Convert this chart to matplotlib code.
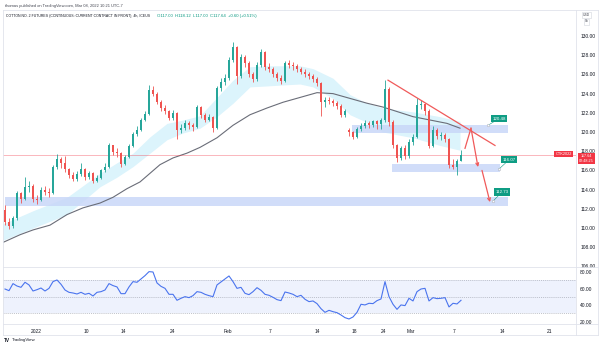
import matplotlib.pyplot as plt
from matplotlib.lines import Line2D
import numpy as np

plt.rcParams['font.family'] = ['Liberation Sans', 'DejaVu Sans']

W, H = 602, 346

# cotton 4h candles (each bar here ~ two bars of the screenshot)
opens = [111.9, 110.6, 110.2, 111.0, 113.6, 113.0, 114.3, 114.4, 113.0, 112.9,
         114.0, 113.8, 113.6, 116.4, 117.2, 116.8, 116.2, 115.5, 115.1, 115.6,
         116.2, 115.3, 115.7, 114.9, 115.2, 116.0, 116.4, 118.6, 117.9, 117.8,
         116.7, 117.4, 118.5, 119.8, 120.2, 121.3, 121.9, 124.4, 124.0, 123.1,
         122.5, 122.2, 121.5, 122.0, 120.2, 120.4, 120.9, 120.7, 120.5, 122.6,
         121.8, 121.3, 121.6, 120.4, 124.6, 125.2, 125.6, 127.5, 128.9, 125.8,
         127.8, 127.2, 126.0, 125.5, 127.0, 128.3, 126.8, 126.6, 126.0, 125.6,
         125.3, 127.2, 127.0, 126.9, 126.6, 126.3, 126.0, 125.8, 125.5, 125.1,
         123.1, 123.3, 123.2, 123.0, 122.7, 121.8, 120.2, 120.0, 119.5, 120.3,
         120.6, 120.9, 120.7, 121.1, 120.8, 121.2, 124.5, 121.0, 118.6, 117.3,
         118.3, 117.5, 119.0, 119.5, 122.8, 122.9, 122.2, 118.5, 120.2, 119.6,
         119.7, 119.3, 116.6, 116.4, 117.0]
highs = [112.4, 111.0, 111.3, 113.9, 113.8, 115.3, 114.9, 114.6, 113.4, 114.3,
         114.4, 114.2, 116.6, 117.7, 117.4, 117.5, 116.3, 115.8, 115.9, 116.8,
         116.3, 115.9, 115.8, 115.5, 116.2, 116.8, 118.9, 118.7, 118.3, 117.9,
         117.6, 118.8, 120.0, 120.6, 121.5, 122.2, 124.9, 124.8, 124.2, 123.3,
         122.8, 122.3, 122.3, 122.1, 120.8, 121.2, 121.1, 120.9, 122.8, 122.7,
         122.0, 121.9, 121.7, 124.8, 125.6, 126.0, 127.8, 129.4, 129.0, 128.1,
         128.0, 127.4, 126.2, 127.3, 128.6, 128.4, 127.2, 126.8, 126.2, 125.9,
         127.4, 127.5, 127.3, 127.1, 126.8, 126.6, 126.3, 126.0, 125.7, 125.2,
         123.6, 123.6, 123.4, 123.2, 122.9, 122.4, 120.4, 120.1, 120.5, 120.9,
         121.2, 121.1, 121.3, 121.3, 121.5, 125.4, 124.7, 121.2, 118.8, 118.5,
         118.6, 119.3, 119.8, 123.5, 123.3, 123.0, 122.4, 120.6, 120.4, 120.0,
         119.9, 119.4, 117.2, 117.2, 118.12]
lows = [110.3, 109.9, 110.0, 110.8, 112.6, 112.9, 113.8, 112.7, 112.5, 112.8,
        113.4, 113.2, 113.5, 116.2, 116.3, 115.8, 115.2, 114.9, 114.9, 115.4,
        115.0, 115.1, 114.7, 114.8, 115.1, 115.8, 116.3, 117.6, 117.4, 116.4,
        116.6, 117.3, 118.4, 119.6, 120.1, 121.1, 121.8, 123.7, 122.9, 122.2,
        121.9, 121.2, 121.3, 119.3, 119.9, 120.2, 120.3, 120.1, 120.4, 121.5,
        121.0, 121.1, 120.0, 120.3, 124.3, 124.9, 125.4, 127.3, 125.0, 125.6,
        126.8, 125.7, 125.2, 125.3, 126.8, 126.5, 126.3, 125.7, 125.3, 125.0,
        125.2, 126.7, 126.5, 126.3, 126.0, 125.7, 125.5, 125.2, 124.8, 121.7,
        122.6, 122.9, 122.7, 122.4, 121.6, 121.6, 119.6, 119.3, 119.4, 120.1,
        120.4, 120.4, 120.5, 120.3, 120.3, 121.0, 120.6, 118.3, 116.9, 117.1,
        117.2, 117.3, 118.7, 119.4, 122.4, 121.8, 118.3, 118.4, 119.3, 119.2,
        119.0, 116.3, 116.2, 115.5, 117.0]
closes = [110.6, 110.2, 111.0, 113.6, 113.0, 114.3, 114.4, 113.0, 112.9, 114.0,
          113.8, 113.6, 116.4, 117.2, 116.8, 116.2, 115.5, 115.1, 115.6, 116.2,
          115.3, 115.7, 114.9, 115.2, 116.0, 116.4, 118.6, 117.9, 117.8, 116.7,
          117.4, 118.5, 119.8, 120.2, 121.3, 121.9, 124.4, 124.0, 123.1, 122.5,
          122.2, 121.5, 122.0, 120.2, 120.4, 120.9, 120.7, 120.5, 122.6, 121.8,
          121.3, 121.6, 120.4, 124.6, 125.2, 125.6, 127.5, 128.9, 125.8, 127.8,
          127.2, 126.0, 125.5, 127.0, 128.3, 126.8, 126.6, 126.0, 125.6, 125.3,
          127.2, 127.0, 126.9, 126.6, 126.3, 126.0, 125.8, 125.5, 125.1, 123.1,
          123.3, 123.2, 123.0, 122.7, 121.8, 122.2, 120.0, 119.5, 120.3, 120.6,
          120.9, 120.7, 121.1, 120.8, 121.2, 124.5, 121.0, 118.6, 117.3, 118.3,
          117.5, 119.0, 119.5, 122.8, 122.9, 122.2, 118.5, 120.2, 119.6, 119.7,
          119.3, 116.6, 116.4, 117.0, 117.64]

rsi = [59.5, 57.5, 66.0, 63.1, 61.5, 67.6, 64.4, 57.1, 58.7, 60.7,
       57.1, 60.3, 68.4, 70.4, 65.2, 58.3, 55.5, 54.7, 53.5, 55.5,
       53.1, 54.3, 51.1, 55.5, 56.3, 58.3, 66.0, 63.6, 62.0, 53.9,
       53.9, 62.0, 68.4, 67.6, 71.6, 75.6, 80.4, 80.0, 66.8, 62.7,
       60.3, 53.1, 53.1, 45.9, 48.3, 50.3, 49.1, 51.5, 56.3, 55.5,
       53.1, 51.5, 50.3, 64.4, 68.0, 71.6, 75.2, 68.4, 60.3, 61.5,
       54.3, 52.7, 56.3, 61.1, 57.9, 53.1, 51.9, 49.5, 46.7, 45.5,
       55.9, 54.7, 53.1, 50.3, 51.9, 47.1, 44.3, 45.1, 41.9, 35.8,
       31.4, 33.8, 32.2, 31.0, 28.2, 25.0, 23.4, 25.8, 31.4, 41.1,
       40.3, 42.3, 41.9, 45.5, 47.5, 68.4, 50.3, 41.1, 35.0, 40.3,
       39.5, 48.3, 45.1, 56.3, 59.5, 60.3, 45.1, 49.1, 47.9, 48.3,
       49.1, 37.9, 42.3, 41.5, 45.9]

# slow moving average (grey line), read at a few points
ma_idx = [-0.5, 3.75, 7, 11.25, 15.5, 19.5, 23.75, 27, 30.5, 33.75, 36.25, 38.75,
          42, 45.5, 48.75, 53, 57, 61.25, 65.5, 69.5, 73.75, 78, 82, 86.25, 90.5,
          94.5, 102, 106.25, 110.5, 113.75]
ma_val = [108.5, 109.3, 109.8, 110.3, 111.4, 112.1, 112.6, 113.2, 114.1, 114.8,
          115.7, 116.6, 117.3, 117.8, 118.4, 119.4, 120.7, 121.8, 122.5, 123.1,
          123.6, 124.1, 124.0, 123.5, 123.0, 122.6, 121.6, 121.25, 120.9, 120.4]

# light blue ribbon
band_idx = [-1.25, 7, 15.5, 23.75, 28, 32, 36.25, 40.5, 44.5, 48.75, 53, 57, 61.25,
            65.5, 69.5, 73.75, 77, 82, 86.25, 90.5, 94.5, 102, 108.75, 113.75]
band_hi = [110.3, 111.8, 113.2, 115.7, 116.8, 117.8, 119.5, 120.9, 121.25, 121.7,
           123.6, 125.4, 126.8, 126.9, 126.9, 126.9, 126.6, 125.6, 123.9, 123.0,
           122.5, 122.1, 121.6, 121.1]
band_lo = [108.6, 110.0, 111.4, 114.3, 115.3, 116.4, 117.8, 119.2, 119.9, 120.4,
           121.6, 123.0, 124.7, 124.8, 124.9, 125.0, 124.7, 123.5, 121.8, 121.0,
           120.0, 119.4, 118.6, 118.1]

# support / resistance zones drawn on the chart
zone_start = [0, 86.75, 96.75]
zone_end = [125.75, 125.75, 123.75]
zone_lo = [112.3, 119.9, 115.8]
zone_hi = [113.2, 120.75, 116.7]
tag_text = ['112.73', '120.48', '116.07']
tag_idx = [124.25, 123.5, 126.0]
tag_price = [113.75, 121.4, 117.1]
dot_idx = [122.0, 120.75, 123.5]
dot_price = [112.8, 120.7, 116.15]

trend_idx = [95.75, 122.5]
trend_val = [125.4, 118.6]
path_idx = [115, 116.5, 118.25]
path_val = [118.3, 120.4, 116.35]
drop_idx = [119.25, 121.25]
drop_val = [116.0, 112.7]

last_price = 117.64

date_pos = [7.75, 20.25, 29.5, 42, 55.75, 66.25, 78, 87.25, 94.75, 101.5, 112.25, 124.25, 136.25]
date_lab = ['2022', '10', '14', '24', 'Feb', '7', '14', '18', '24', 'Mar', '7', '14', '21']

GREEN = '#26a69a'
RED = '#ef5350'
LINE = '#e0e3eb'


def box(x0, y0, x1, y1):
    return [x0 / W, 1 - y1 / H, (x1 - x0) / W, (y1 - y0) / H]


fig = plt.figure(figsize=(W / 100, H / 100), dpi=100)
ax = fig.add_axes(box(3, 10, 576, 267))
rax = fig.add_axes(box(3, 267, 576, 324))

# ---- price pane
ax.fill_between(band_idx, band_lo, band_hi, color='#dcf4fc', lw=0, zorder=1)
ax.plot(ma_idx, ma_val, color='#6a6d78', lw=0.8, zorder=2)

for s, e, lo, hi in zip(zone_start, zone_end, zone_lo, zone_hi):
    ax.fill_between([s, e], lo, hi, color='#c9d7f8', alpha=0.85, lw=0, zorder=1.5)

idx = np.arange(len(closes))
o = np.array(opens)
c = np.array(closes)
col = np.where(c >= o, GREEN, RED)
ax.vlines(idx, lows, highs, colors=col, lw=0.6, zorder=3)
ax.bar(idx, np.maximum(np.abs(c - o), 0.06), bottom=np.minimum(o, c), width=0.62,
       color=col, lw=0, zorder=4)

ax.axhline(last_price, color='#f23645', lw=0.5, alpha=0.5, zorder=2)

acol = '#f05a5a'
ax.plot(trend_idx, trend_val, color=acol, lw=0.9, zorder=5)
ax.plot(path_idx[:2], path_val[:2], color=acol, lw=0.9, zorder=5)
ax.annotate('', xy=(path_idx[2], path_val[2]), xytext=(path_idx[1], path_val[1]),
            arrowprops=dict(arrowstyle='->', color=acol, lw=0.9, shrinkA=0, shrinkB=0,
                            mutation_scale=5), zorder=5)
ax.annotate('', xy=(drop_idx[1], drop_val[1]), xytext=(drop_idx[0], drop_val[0]),
            arrowprops=dict(arrowstyle='->', color=acol, lw=0.9, shrinkA=0, shrinkB=0,
                            mutation_scale=5), zorder=5)

for t, ti, tp, di, dp in zip(tag_text, tag_idx, tag_price, dot_idx, dot_price):
    ax.plot([di, ti], [dp, tp], color='#0f9d84', lw=0.4, zorder=5)
    ax.plot(di, dp, 'o', ms=1.8, mfc='white', mec='#b0b4bf', mew=0.4, zorder=6)
    ax.text(ti, tp, t, fontsize=3.2, color='white', ha='center', va='center', zorder=7,
            bbox=dict(boxstyle='square,pad=0.35', fc='#0f9d84', ec='none'))

ax.set_xlim(-0.5, 142.75)
ax.set_ylim(105.94, 132.71)
ax.set_xticks([])
ax.yaxis.tick_right()
ax.set_yticks(np.arange(106, 131, 2))
ax.set_yticklabels(['%.2f' % v for v in np.arange(106, 131, 2)])
ax.tick_params(axis='y', length=0, pad=3, labelsize=3.5, labelcolor='#131722')
for sp in ax.spines.values():
    sp.set_visible(False)

# ---- RSI pane
rax.axhspan(30, 70, color='#eef2fd', lw=0)
for lvl in (70, 50, 30):
    rax.axhline(lvl, color='#a9adb8', lw=0.5, ls=(0, (1.5, 1.5)))
rax.plot(idx, rsi, color='#4a74ee', lw=0.8)
rax.set_xlim(-0.5, 142.75)
rax.set_ylim(17.35, 86.0)
rax.yaxis.tick_right()
rax.set_yticks([20, 40, 60, 80])
rax.set_yticklabels(['20.00', '40.00', '60.00', '80.00'])
rax.set_xticks(date_pos)
rax.set_xticklabels(date_lab)
rax.tick_params(axis='y', length=0, pad=3, labelsize=3.5, labelcolor='#131722')
rax.tick_params(axis='x', length=0, pad=3.5, labelsize=3.5, labelcolor='#131722')
for sp in rax.spines.values():
    sp.set_visible(False)


# ---- frame lines
def hline(y, x0, x1):
    fig.add_artist(Line2D([x0 / W, x1 / W], [1 - y / H, 1 - y / H], color=LINE, lw=0.6))


def vline(x, y0, y1):
    fig.add_artist(Line2D([x / W, x / W], [1 - y0 / H, 1 - y1 / H], color=LINE, lw=0.6))


hline(10, 3, 598)
hline(267, 3, 598)
hline(324, 3, 598)
hline(335, 3, 598)
vline(3, 10, 335)
vline(576, 10, 335)
vline(598, 10, 335)

# ---- header / labels
fig.text(5 / W, 1 - 6 / H, 'thomas published on TradingView.com, Mar 08, 2022 10:21 UTC-7',
         fontsize=2.9, color='#434651', va='center')
fig.text(6 / W, 1 - 16 / H,
         'COTTON NO. 2 FUTURES (CONTINUOUS: CURRENT CONTRACT IN FRONT), 4h, ICEUS',
         fontsize=2.5, color='#131722', va='center')
fig.text(157 / W, 1 - 16 / H, 'O117.00  H118.12  L117.00  C117.64  +0.60 (+0.51%)',
         fontsize=3.05, color='#089981', va='center')
fig.text(586.5 / W, 1 - 15 / H, 'USD', fontsize=2.4, color='#434651', ha='center', va='center',
         bbox=dict(boxstyle='square,pad=0.3', fc='white', ec='#d1d4dc', lw=0.4))
fig.text(586.5 / W, 1 - 21.5 / H, 'lb', fontsize=2.4, color='#434651', ha='center', va='center',
         bbox=dict(boxstyle='square,pad=0.3', fc='white', ec='#d1d4dc', lw=0.4))

fig.text(563.5 / W, 1 - 154 / H, 'CTK2022', fontsize=2.8, color='white', ha='center',
         va='center', bbox=dict(boxstyle='square,pad=0.3', fc='#f23645', ec='none'))
fig.text(586.5 / W, 1 - 158.5 / H, '117.64\n02:48:25', fontsize=2.7, color='white',
         ha='center', va='center', linespacing=1.25,
         bbox=dict(boxstyle='square,pad=0.2', fc='#f23645', ec='none'))

fig.text(4 / W, 1 - 340.5 / H, 'TV', fontsize=3.4, color='#131722', fontweight='bold',
         va='center')
fig.text(12 / W, 1 - 340.5 / H, 'TradingView', fontsize=3.2, color='#131722', va='center')

fig.savefig('out.png', dpi=100)
